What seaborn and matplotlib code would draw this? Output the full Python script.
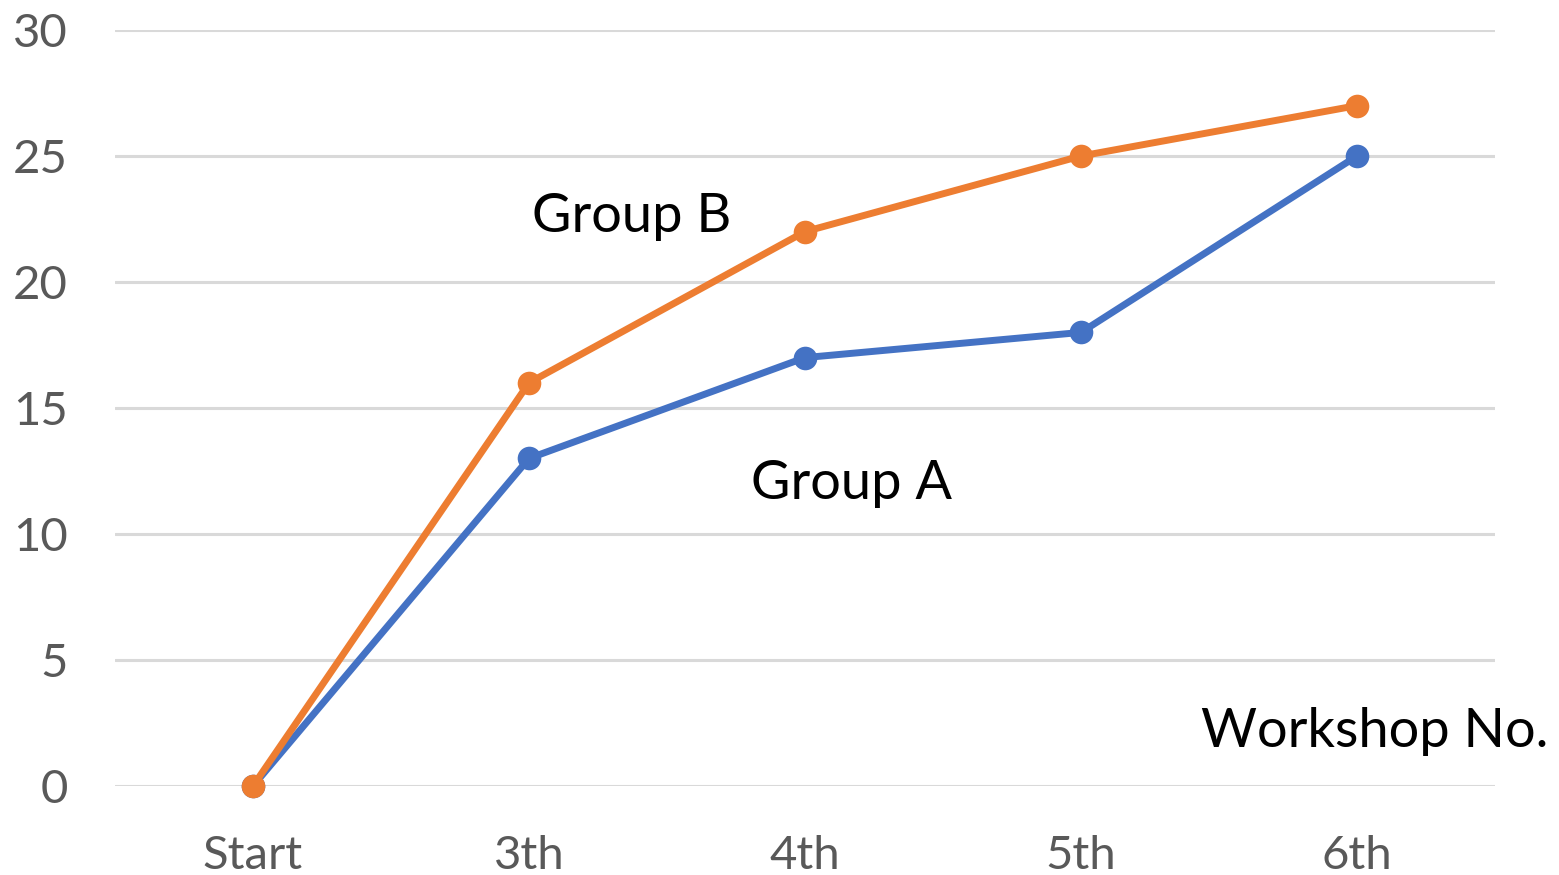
import numpy as np
import pandas as pd
import matplotlib
matplotlib.use("Agg")
import matplotlib.pyplot as plt
import seaborn as sns

# chart data
workshops = ["Start", "3th", "4th", "5th", "6th"]
group_a = [0, 13, 17, 18, 25]
group_b = [0, 16, 22, 25, 27]

df = pd.DataFrame({
    "Workshop": workshops * 2,
    "Score": group_a + group_b,
    "Group": ["Group A"] * len(workshops) + ["Group B"] * len(workshops),
})

sns.set_theme(style="whitegrid")
plt.rcParams["font.family"] = ["Lato", "DejaVu Sans"]

fig = plt.figure(figsize=(15.59, 8.75), dpi=100)
ax = fig.add_axes([115 / 1559, 89 / 875, 1380 / 1559, 756 / 875])

sns.lineplot(data=df, x="Workshop", y="Score", hue="Group", sort=False,
             palette={"Group A": "#4472C4", "Group B": "#ED7D31"},
             marker="o", markersize=17, markeredgewidth=0, linewidth=5,
             legend=False, ax=ax)
# markers at 0 should not be cut by the axes edge
for line in ax.lines:
    line.set_clip_on(False)

ax.set_xlim(-0.5, 4.5)
ax.set_ylim(0, 30)
ax.set_yticks(np.arange(0, 31, 5))
ax.set_xlabel("")
ax.set_ylabel("")
ax.grid(axis="y", color="#D9D9D9", linewidth=2.2)
ax.grid(axis="x", visible=False)
for s in ax.spines.values():
    s.set_visible(False)
ax.set_axisbelow(True)
ax.tick_params(axis="both", length=0, labelsize=34, colors="#595959")
ax.tick_params(axis="y", pad=34)
ax.tick_params(axis="x", pad=35)
for lab in ax.get_yticklabels():
    lab.set_horizontalalignment("right")

# in-plot labels
ax.text(1.373, 22.0, "Group B", fontsize=39, color="black", ha="center", va="baseline")
ax.text(2.17, 11.4, "Group A", fontsize=39, color="black", ha="center", va="baseline")
ax.text(4.065, 1.55, "Workshop No.", fontsize=39, color="black", ha="center",
        va="baseline", clip_on=False)

fig.savefig("out.png", dpi=100)
